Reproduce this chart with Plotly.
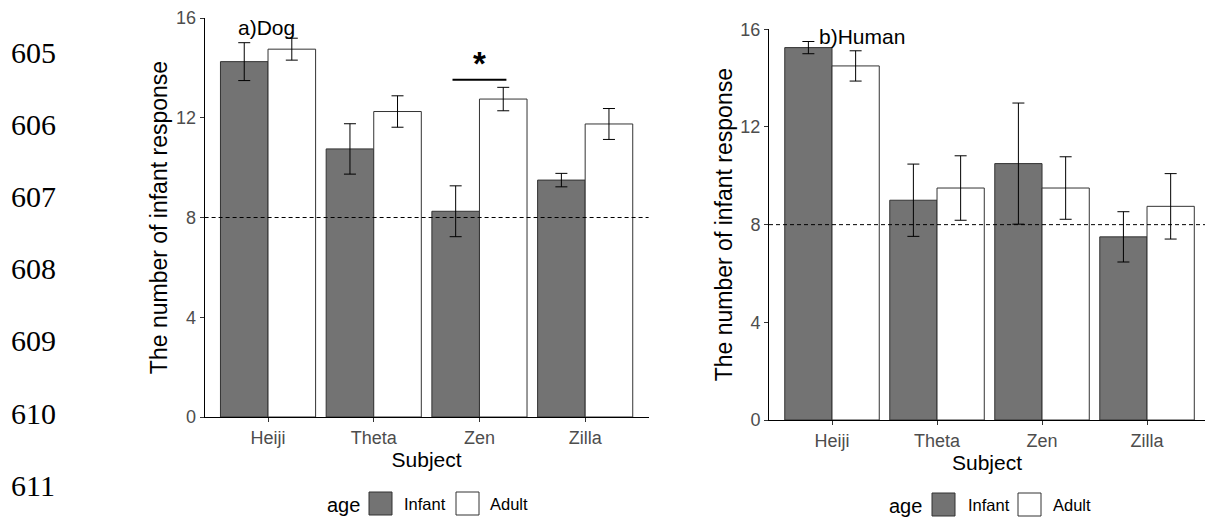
import plotly.graph_objects as go

W, H = 1205, 521

subjects = ["Heiji", "Theta", "Zen", "Zilla"]
tick_vals = [0, 4, 8, 12, 16]
line_numbers = ["605", "606", "607", "608", "609", "610", "611"]

dog_infant = [14.25, 10.75, 8.25, 9.5]
dog_infant_se = [0.76, 1.01, 1.02, 0.27]
dog_adult = [14.75, 12.25, 12.75, 11.75]
dog_adult_se = [0.44, 0.63, 0.47, 0.62]

human_infant = [15.25, 9.0, 10.5, 7.5]
human_infant_se = [0.25, 1.48, 2.48, 1.03]
human_adult = [14.5, 9.5, 9.5, 8.75]
human_adult_se = [0.62, 1.32, 1.28, 1.34]

chance_level = 8

INF = "#737373"
ADU = "#FFFFFF"
EDGE = "#333333"
FONT = "Liberation Sans, Arial, sans-serif"


def px(x):
    return x / W


def py(y):
    return (H - y) / H


fig = go.Figure()


def add_panel(inf, inf_se, adu, adu_se, xa, ya):
    fig.add_trace(go.Bar(
        x=subjects, y=inf, name="Infant", xaxis=xa, yaxis=ya, showlegend=False,
        marker=dict(color=INF, line=dict(color=EDGE, width=1)),
        error_y=dict(type="data", array=inf_se, color="black", thickness=1, width=6)))
    fig.add_trace(go.Bar(
        x=subjects, y=adu, name="Adult", xaxis=xa, yaxis=ya, showlegend=False,
        marker=dict(color=ADU, line=dict(color=EDGE, width=1)),
        error_y=dict(type="data", array=adu_se, color="black", thickness=1, width=6)))


add_panel(dog_infant, dog_infant_se, dog_adult, dog_adult_se, "x", "y")
add_panel(human_infant, human_infant_se, human_adult, human_adult_se, "x2", "y2")

axis_common = dict(
    showline=True, linecolor="black", linewidth=1, ticks="outside", ticklen=4,
    tickcolor="#333333", tickwidth=1, showgrid=False, zeroline=False, automargin=False,
    tickfont=dict(family=FONT, size=18, color="#4D4D4D"),
)
ytitle = "The number of infant response"

fig.update_layout(
    template="none",
    width=W, height=H, margin=dict(l=0, r=0, t=0, b=0, pad=0, autoexpand=False),
    paper_bgcolor="white", plot_bgcolor="white",
    barmode="group", bargap=0.1, bargroupgap=0,
    font=dict(family=FONT),
    showlegend=False,
    xaxis=dict(domain=[px(204.6), px(648.6)], range=[-0.6, 3.6], anchor="y",
               title=dict(text="Subject", font=dict(size=21, color="black"), standoff=0),
               **axis_common),
    yaxis=dict(domain=[py(417), py(18)], range=[0, 16], anchor="x", tickvals=tick_vals,
               title=dict(text=ytitle, font=dict(size=23, color="black"), standoff=1),
               **axis_common),
    xaxis2=dict(domain=[px(769), 1.0], range=[-0.6, 3.552], anchor="y2",
                title=dict(text="Subject", font=dict(size=21, color="black"), standoff=0),
                **axis_common),
    yaxis2=dict(domain=[py(420), py(29.3)], range=[0, 16], anchor="x2", tickvals=tick_vals,
                title=dict(text=ytitle, font=dict(size=23, color="black"), standoff=1),
                **axis_common),
)

# chance-level dashed lines
for xr, yr in (("x domain", "y"), ("x2 domain", "y2")):
    fig.add_shape(type="line", xref=xr, yref=yr, x0=0, x1=1, y0=chance_level, y1=chance_level,
                  line=dict(color="black", width=1, dash="4px,3px"))

# significance bar
fig.add_shape(type="line", xref="x", yref="y", x0=1.745, x1=2.255, y0=13.52, y1=13.52,
              line=dict(color="black", width=2))
fig.add_annotation(xref="x", yref="y", x=2, y=14.17, text="<b>*</b>", showarrow=False,
                   font=dict(family=FONT, size=33, color="black"), yanchor="middle")

# panel labels
fig.add_annotation(xref="x", yref="y", x=-0.01, y=15.6, text="a)Dog", showarrow=False,
                   font=dict(family=FONT, size=21, color="black"))
fig.add_annotation(xref="x2", yref="y2", x=0.29, y=15.72, text="b)Human", showarrow=False,
                   font=dict(family=FONT, size=21, color="black"))

# line numbers
for i, t in enumerate(line_numbers):
    yc = 52 + i * 72.2
    fig.add_annotation(xref="paper", yref="paper", x=px(9), y=py(yc), text=t, showarrow=False,
                       xanchor="left", yanchor="middle",
                       font=dict(family="Liberation Serif, Times New Roman, serif", size=30, color="black"))

# legends (one under each panel)
def legend(age_cx, inf_box_x, inf_txt_x, adu_box_x, adu_txt_x, ytop):
    yc = ytop + 11.5
    fig.add_annotation(xref="paper", yref="paper", x=px(age_cx), y=py(yc + 1), text="age",
                       showarrow=False, xanchor="center", yanchor="middle",
                       font=dict(family=FONT, size=20, color="black"))
    for bx, tx, fill, label in ((inf_box_x, inf_txt_x, INF, "Infant"), (adu_box_x, adu_txt_x, ADU, "Adult")):
        fig.add_shape(type="rect", xref="paper", yref="paper",
                      x0=px(bx), x1=px(bx + 23), y0=py(ytop + 23), y1=py(ytop),
                      fillcolor=fill, line=dict(color=EDGE, width=1))
        fig.add_annotation(xref="paper", yref="paper", x=px(tx), y=py(yc), text=label,
                           showarrow=False, xanchor="left", yanchor="middle",
                           font=dict(family=FONT, size=16.5, color="black"))


legend(343, 369, 402, 456, 488, 492)
legend(905, 932, 966, 1018, 1051, 493)

fig.write_html("out.html", config={"displayModeBar": False},
               post_script="document.body.style.margin='0';document.body.style.overflow='hidden';")
